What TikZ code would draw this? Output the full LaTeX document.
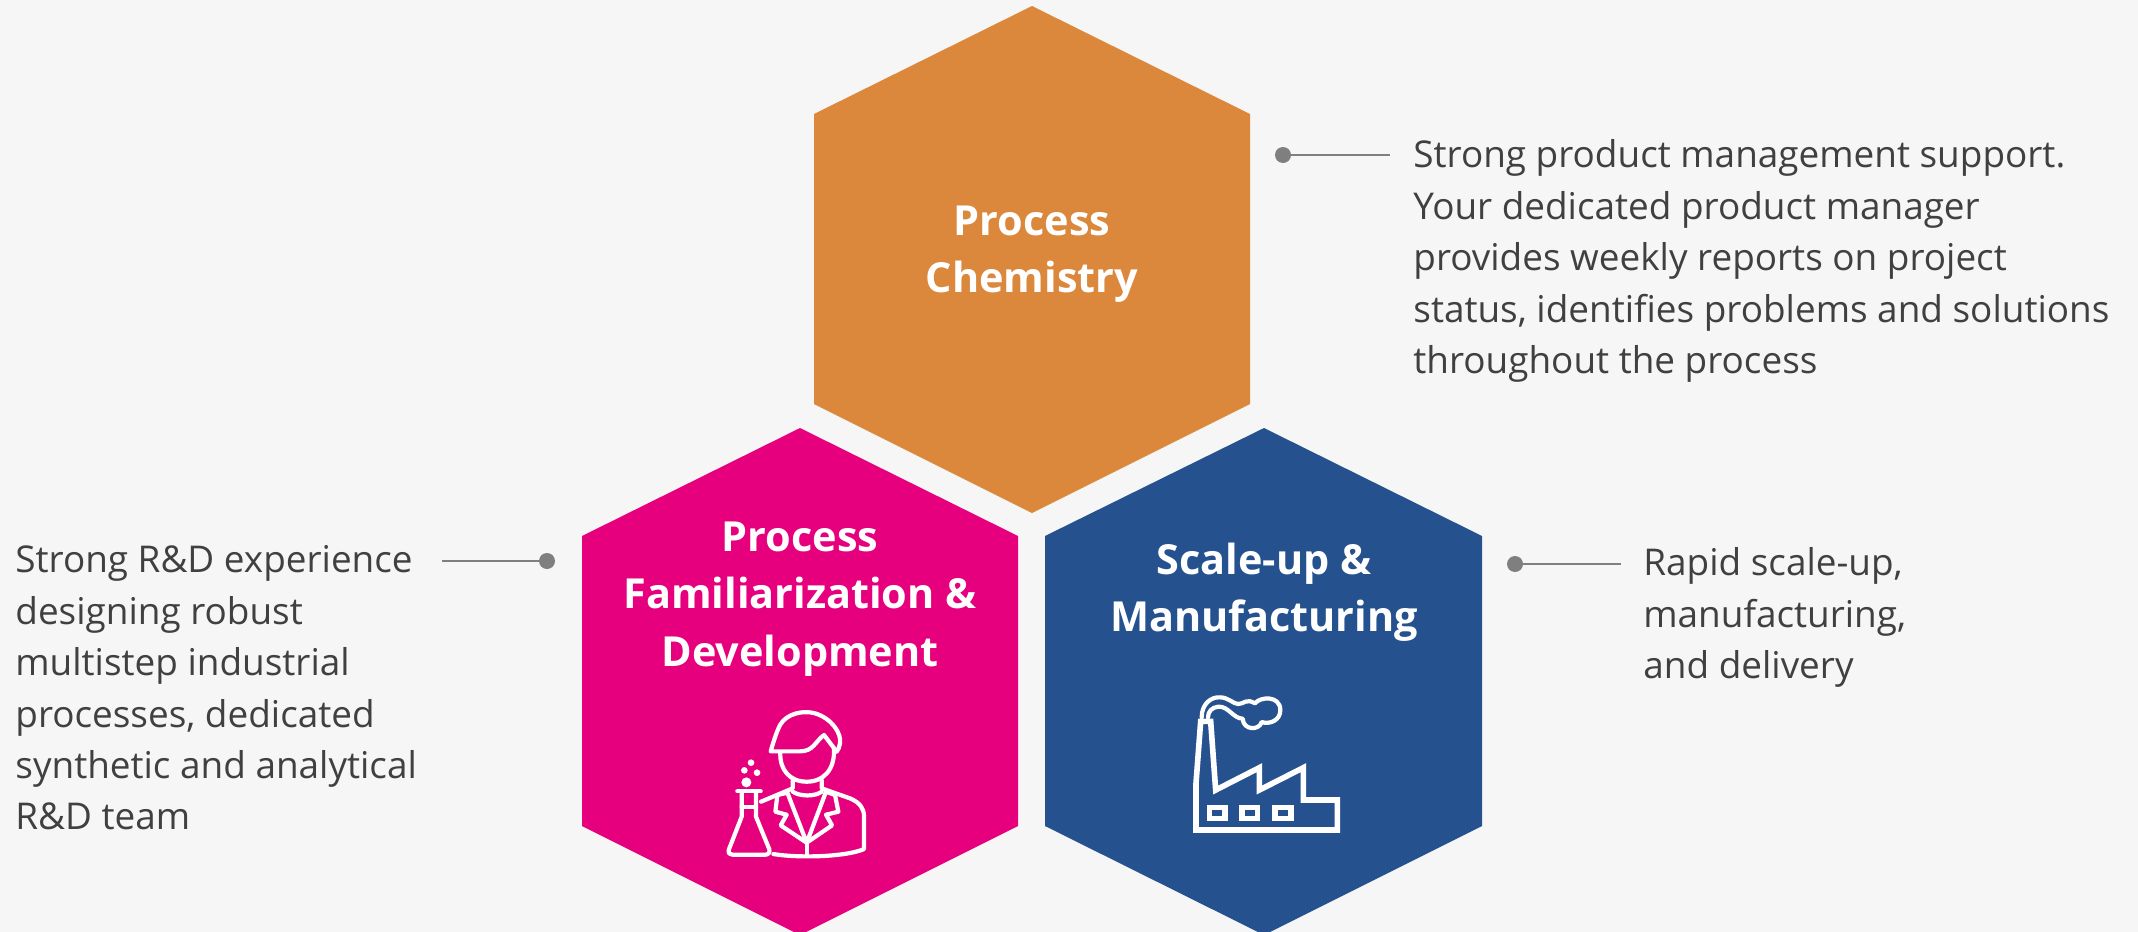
\documentclass[tikz,border=0pt]{standalone}
\usepackage{fontspec}
\setmainfont{Open Sans}
\definecolor{bgc}{HTML}{F6F6F6}
\definecolor{orangec}{HTML}{DB883D}
\definecolor{pinkc}{HTML}{E6007E}
\definecolor{bluec}{HTML}{25528F}
\definecolor{txtc}{HTML}{404040}
\definecolor{linec}{HTML}{7F7F7F}
\tikzset{
  hextitle/.style={text=white,font=\fontsize{20.7}{28.6}\selectfont\bfseries,align=center,inner sep=0pt},
  desc/.style={text=txtc,font=\fontsize{18.45}{25.7}\selectfont,align=left,inner sep=0pt,anchor=north west},
  dotn/.style={circle,fill=linec,minimum size=8pt,inner sep=0pt},
  lead/.style={draw=linec,line width=0.8pt},
  ic/.style={draw=white,line width=2.1pt,line join=round,line cap=round,fill=none},
  icf/.style={draw=white,line width=2.8pt,line join=miter,line cap=butt,fill=none},
}
\begin{document}
\begin{tikzpicture}[x=0.5pt,y=-0.5pt]
\useasboundingbox (0,0) rectangle (2138,932);
\fill[bgc] (0,0) rectangle (2138,932);
\fill[orangec] (1032,6) -- (1250,114) -- (1250,404) -- (1032,513) -- (814,404) -- (814,114) -- cycle;
\fill[pinkc] (800,428) -- (1018,536) -- (1018,826) -- (800,935) -- (582,826) -- (582,536) -- cycle;
\fill[bluec] (1264,428) -- (1482,536) -- (1482,826) -- (1264,935) -- (1045,826) -- (1045,536) -- cycle;
\node[hextitle] (t1) at (1032,254) {Process\\Chemistry};
\node[hextitle] (t2) at (800,599) {Process\\Familiarization \&\\Development};
\node[hextitle] (t3) at (1264,592) {Scale-up \&\\Manufacturing};
% connectors
\node[dotn] (d1) at (1283,155) {};
\coordinate (e1) at (1390,155);
\draw[lead] (d1) -- (e1);
\node[dotn] (d2) at (547,561) {};
\coordinate (e2) at (442,561);
\draw[lead] (d2) -- (e2);
\node[dotn] (d3) at (1515,564) {};
\coordinate (e3) at (1621,564);
\draw[lead] (d3) -- (e3);
% descriptions
\node[desc] (x1) at (1413,139.5) {Strong product management support.\\Your dedicated product manager\\provides weekly reports on project\\status, identifies problems and solutions\\throughout the process};
\node[desc] (x2) at (15,545.5) {Strong R\&D experience\\designing robust\\multistep industrial\\processes, dedicated\\synthetic and analytical\\R\&D team};
\node[desc] (x3) at (1643,547.5) {Rapid scale-up,\\manufacturing,\\and delivery};
% scientist icon
\begin{scope}[shift={(700,680)},x=0.1667pt,y=-0.1667pt]
\draw[ic] (212,214) .. controls (222,180) and (228,160) .. (240,135) .. controls (260,100) and (310,90) .. (345,100) .. controls (395,115) and (425,160) .. (420,190) .. controls (418,200) and (415,210) .. (410,215) -- (372,165) .. controls (345,185) and (340,214) .. (300,214) -- cycle;
\draw[ic] (241,216) .. controls (238,270) and (270,305) .. (320,305) .. controls (370,305) and (405,270) .. (402,205);
\draw[ic] (278,300) -- (278,325) -- (183,365);
\draw[ic] (365,300) -- (365,325) -- (450,355) .. controls (480,368) and (492,385) .. (492,410) -- (492,507) .. controls (440,530) and (300,535) .. (220,522);
\draw[ic] (278,335) .. controls (300,350) and (345,350) .. (365,335);
\draw[ic] (262,338) -- (232,345) -- (226,395) -- (260,404) -- (242,436) -- (320,488) -- (396,436) -- (378,404) -- (415,395) -- (405,345) -- (378,335) -- (320,488) -- (262,338);
\draw[ic] (320,488) -- (320,525);
\draw[ic] (112,334) -- (182,334);
\draw[ic] (125,336) -- (125,410) -- (86,510) .. controls (84,520) and (90,524) .. (98,524) -- (195,524) .. controls (205,524) and (210,518) .. (208,508) -- (168,410) -- (168,336);
\draw[ic] (125,382) -- (168,382);
\fill[white] (139,307) circle (15) (133,271) circle (10) (153,248) circle (10) (171,278) circle (10);
\end{scope}
% factory icon
\begin{scope}[shift={(1170,680)},x=0.1667pt,y=-0.1667pt]
\draw[icf] (78,450) -- (78,310) -- (92,124) -- (122,124) -- (137,330) -- (268,263) -- (268,330) -- (400,263) -- (400,360) -- (502,360) -- (502,450) -- cycle;
\draw[ic] (95,112) .. controls (95,70) and (125,50) .. (150,52) .. controls (175,52) and (190,72) .. (205,72) .. controls (222,72) and (228,54) .. (255,70) .. controls (270,50) and (330,45) .. (331,90) .. controls (331,122) and (298,134) .. (275,126) .. controls (268,152) and (220,152) .. (218,116) .. controls (190,116) and (175,78) .. (145,80) .. controls (125,82) and (114,95) .. (114,112);
\draw[icf] (118,382) rectangle (165,415);
\draw[icf] (216,382) rectangle (263,415);
\draw[icf] (314,382) rectangle (362,415);
\end{scope}
\end{tikzpicture}
\end{document}
